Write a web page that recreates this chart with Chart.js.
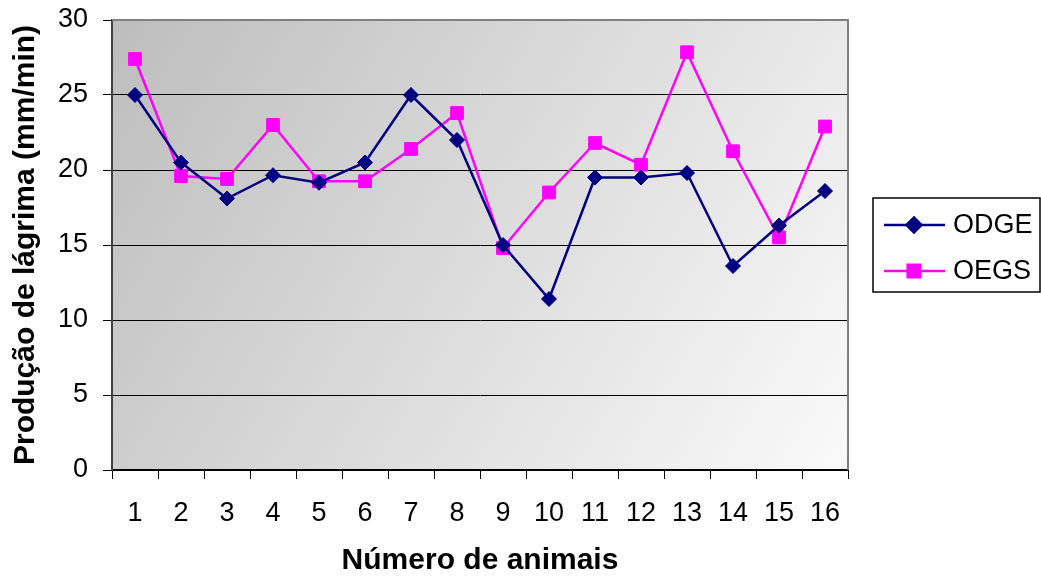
<!DOCTYPE html>
<html lang="pt">
<head>
<meta charset="UTF-8">
<title>Produção de lágrima</title>
<script src="https://cdn.jsdelivr.net/npm/chart.js@4.4.0/dist/chart.umd.min.js"></script>
<style>
  body { margin: 0; background: #fff; }
  #wrap { width: 1041px; height: 579px; }
</style>
</head>
<body>
<div id="wrap"><canvas id="myChart" width="1041" height="579"></canvas></div>
<script>
// dados
var animais = ['1', '2', '3', '4', '5', '6', '7', '8', '9', '10', '11', '12', '13', '14', '15', '16'];
var odge = [25.0, 20.5, 18.1, 19.65, 19.15, 20.5, 25.0, 22.0, 15.0, 11.4, 19.5, 19.5, 19.8, 13.6, 16.3, 18.6];
var oegs = [27.4, 19.6, 19.4, 23.0, 19.25, 19.25, 21.4, 23.8, 14.8, 18.5, 21.8, 20.35, 27.85, 21.25, 15.5, 22.9];
var yTicks = [0, 5, 10, 15, 20, 25, 30];

var fonte = '"Liberation Sans", Arial, sans-serif';
Chart.defaults.font.family = fonte;
Chart.defaults.color = '#000';

// fundo em degradê da área do gráfico
var fundo = {
  id: 'fundo',
  beforeDraw: function(chart) {
    var a = chart.chartArea, ctx = chart.ctx;
    var g = ctx.createLinearGradient(a.left, a.top, a.right, a.bottom);
    g.addColorStop(0, '#bdbdbd');
    g.addColorStop(1, '#fafafa');
    ctx.save();
    ctx.fillStyle = g;
    ctx.fillRect(a.left, a.top, a.right - a.left, a.bottom - a.top);
    ctx.restore();
  }
};

// borda cinza em cima e à direita
var moldura = {
  id: 'moldura',
  beforeDatasetsDraw: function(chart) {
    var a = chart.chartArea, ctx = chart.ctx;
    ctx.save();
    ctx.strokeStyle = '#808080';
    ctx.lineWidth = 2;
    ctx.beginPath();
    ctx.moveTo(a.left, a.top);
    ctx.lineTo(a.right, a.top);
    ctx.lineTo(a.right, a.bottom);
    ctx.stroke();
    ctx.restore();
  }
};

// legenda com linha e marcador
var legenda = {
  id: 'legenda',
  afterDraw: function(chart) {
    var ctx = chart.ctx;
    var x = 873, y = 198, w = 167, h = 94;
    ctx.save();
    ctx.fillStyle = '#fff';
    ctx.fillRect(x, y, w, h);
    ctx.strokeStyle = '#000';
    ctx.lineWidth = 1.5;
    ctx.strokeRect(x, y, w, h);
    chart.data.datasets.forEach(function(ds, i) {
      var ly = 225 + i * 46;
      ctx.strokeStyle = ds.borderColor;
      ctx.lineWidth = ds.borderWidth;
      ctx.beginPath();
      ctx.moveTo(884, ly);
      ctx.lineTo(945, ly);
      ctx.stroke();
      Chart.helpers.drawPoint(ctx, {
        pointStyle: ds.pointStyle,
        radius: ds.pointRadius,
        rotation: 0,
        borderWidth: 1
      }, 914, ly);
      ctx.fillStyle = ds.backgroundColor;
      ctx.fill();
      ctx.fillStyle = '#000';
      ctx.font = '27px ' + fonte;
      ctx.textBaseline = 'middle';
      ctx.fillText(ds.label, 953, ly + 1);
    });
    ctx.restore();
  }
};

var ctx = document.getElementById('myChart').getContext('2d');
var myChart = new Chart(ctx, {
  type: 'line',
  data: {
    labels: animais,
    datasets: [{
      label: 'ODGE',
      data: odge,
      borderColor: '#000080',
      backgroundColor: '#000080',
      borderWidth: 2.5,
      pointStyle: 'rectRot',
      pointRadius: 7.5,
      pointBorderWidth: 1,
      tension: 0
    }, {
      label: 'OEGS',
      data: oegs,
      borderColor: '#ff00ff',
      backgroundColor: '#ff00ff',
      borderWidth: 2.5,
      pointStyle: 'rect',
      pointRadius: 9,
      pointBorderWidth: 1,
      tension: 0
    }]
  },
  options: {
    responsive: false,
    animation: false,
    layout: { padding: { top: 20, right: 193, left: 0, bottom: 0 } },
    plugins: {
      legend: { display: false },
      tooltip: { enabled: false }
    },
    scales: {
      x: {
        offset: true,
        grid: { offset: true, drawOnChartArea: false, tickLength: 9, color: '#000' },
        border: { color: '#000', width: 2 },
        ticks: { padding: 18, font: { size: 27 }, maxRotation: 0, autoSkip: false },
        title: {
          display: true,
          text: 'Número de animais',
          font: { size: 30, weight: 'bold' },
          padding: { top: 0, bottom: 0 }
        },
        afterFit: function(scale) {
          scale.height = 109;
          scale.paddingLeft = 0;
          scale.paddingRight = 0;
        }
      },
      y: {
        min: 0,
        max: 30,
        afterBuildTicks: function(scale) {
          scale.ticks = yTicks.map(function(v) { return { value: v }; });
        },
        grid: {
          color: function(c) { return c.tick && c.tick.value === 30 ? '#808080' : '#000'; },
          tickColor: '#000',
          tickLength: 9,
          lineWidth: 1
        },
        border: { color: '#404040', width: 2 },
        ticks: { padding: 15, font: { size: 27 } },
        title: {
          display: true,
          text: 'Produção de lágrima (mm/min)',
          font: { size: 30, weight: 'bold' },
          padding: { top: 8, bottom: 0 }
        },
        afterFit: function(scale) {
          scale.width = 112;
          scale.paddingTop = 0;
          scale.paddingBottom = 0;
        }
      }
    }
  },
  plugins: [fundo, moldura, legenda]
});
</script>
</body>
</html>
